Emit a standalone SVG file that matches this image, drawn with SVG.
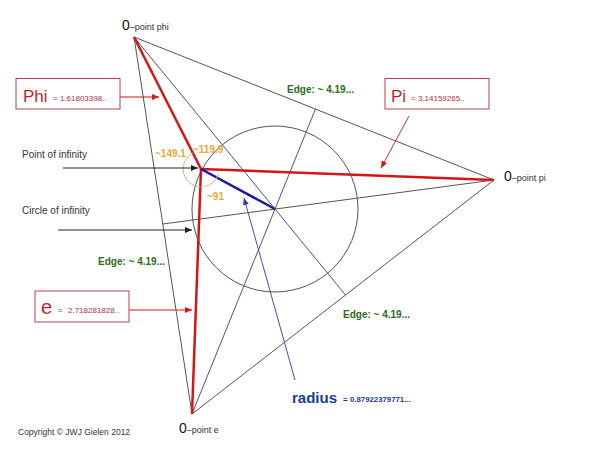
<svg xmlns="http://www.w3.org/2000/svg" width="600" height="450" viewBox="0 0 600 450">
<style>
.g{stroke:#555;stroke-width:1;fill:none}
.red{stroke:#d41515;stroke-width:2.5;fill:none}
.blue{stroke:#1a1aa8;stroke-width:2.5;fill:none}
.arc{stroke:#d8b68c;stroke-width:1;fill:none}
.lbl{font-family:"Liberation Sans",Arial,sans-serif;fill:#333}
.pt0{font-family:"Liberation Sans",Arial,sans-serif;font-size:14px;fill:#111}
.ptl{font-family:"Liberation Sans",Arial,sans-serif;font-size:9px;fill:#333}
.edge{font-family:"Liberation Sans",Arial,sans-serif;font-size:10px;font-weight:bold;fill:#2d6b22}
.ang{font-family:"Liberation Sans",Arial,sans-serif;font-size:10px;font-weight:bold;fill:#e8a838}
.box{fill:#fff;stroke:#b04050;stroke-width:1}
.big{font-family:"Liberation Sans",Arial,sans-serif;font-size:17px;fill:#c01f2f}
.small{font-family:"Liberation Sans",Arial,sans-serif;font-size:8px;fill:#b03040}
</style>
<defs>
<marker id="ab" markerWidth="8" markerHeight="8" refX="7" refY="4" orient="auto" markerUnits="userSpaceOnUse"><path d="M0,1 L7,4 L0,7 z" fill="#222"/></marker>
<marker id="ar" markerWidth="8" markerHeight="8" refX="7" refY="4" orient="auto" markerUnits="userSpaceOnUse"><path d="M0,1 L7,4 L0,7 z" fill="#d41515"/></marker>
<marker id="au" markerWidth="8" markerHeight="8" refX="7" refY="4" orient="auto" markerUnits="userSpaceOnUse"><path d="M0,1 L7,4 L0,7 z" fill="#3a3aa8"/></marker>
</defs>
<rect width="600" height="450" fill="#fff"/>
<g id="connectors">
<line class="g" x1="134" y1="37" x2="494" y2="180"/>
<line class="g" x1="494" y1="180" x2="192" y2="414"/>
<line class="g" x1="134" y1="37" x2="192" y2="414"/>
<line class="g" x1="134" y1="37" x2="345.5" y2="295"/>
<line class="g" x1="494" y1="180" x2="162.7" y2="224"/>
<line class="g" x1="192" y1="414" x2="315.5" y2="109"/>
<circle class="g" cx="275" cy="209" r="83"/>
<line class="red" x1="201" y1="169" x2="134" y2="37"/>
<line class="red" x1="201" y1="169" x2="494" y2="180"/>
<line class="red" x1="201" y1="169" x2="192" y2="414"/>
<line class="blue" x1="201" y1="169" x2="275" y2="209"/>
<path class="arc" d="M192.8,153 A18,18 0 0 0 200.4,187"/>
<path class="arc" d="M218.4,173.7 A18,18 0 0 1 204.1,186.7"/>
<line x1="63" y1="168" x2="198" y2="168" stroke="#222" stroke-width="1" marker-end="url(#ab)"/>
<line x1="58" y1="230" x2="192" y2="230" stroke="#222" stroke-width="1" marker-end="url(#ab)"/>
<line x1="120" y1="97" x2="159" y2="97" stroke="#d41515" stroke-width="1" marker-end="url(#ar)"/>
<line x1="409" y1="116" x2="381" y2="168" stroke="#c03040" stroke-width="1" marker-end="url(#ar)"/>
<line x1="129" y1="310" x2="192" y2="310" stroke="#d41515" stroke-width="1" marker-end="url(#ar)"/>
<line x1="295" y1="380" x2="244" y2="198" stroke="#4a4ab0" stroke-width="1" marker-end="url(#au)"/>
</g>
<g id="point-phi"><text x="122" y="30"><tspan class="pt0">0</tspan><tspan class="ptl">–point phi</tspan></text></g>
<g id="point-pi"><text x="504" y="181"><tspan class="pt0">0</tspan><tspan class="ptl">–point pi</tspan></text></g>
<g id="point-e"><text x="179" y="433"><tspan class="pt0">0</tspan><tspan class="ptl">–point e</tspan></text></g>
<g id="phi-box"><rect class="box" x="16" y="78.5" width="104" height="30.5"/><text x="23" y="102" class="big">Phi</text><text x="53" y="101" class="small">= 1.61803398..</text></g>
<g id="pi-box"><rect class="box" x="385" y="78.5" width="104" height="30.5"/><text x="391" y="102" class="big">Pi</text><text x="411" y="101" class="small">= 3.14159265..</text></g>
<g id="e-box"><rect class="box" x="35" y="291" width="94" height="31"/><text x="41" y="314" class="big" style="font-size:20px">e</text><text x="58" y="313" class="small">=</text><text x="68" y="313" class="small">2.718281828..</text></g>
<g id="labels">
<text x="22" y="158" class="lbl" font-size="10">Point of infinity</text>
<text x="22" y="214" class="lbl" font-size="10">Circle of infinity</text>
<text x="287" y="93" class="edge">Edge: ~ 4.19...</text>
<text x="98" y="265" class="edge">Edge: ~ 4.19...</text>
<text x="343" y="318" class="edge">Edge: ~ 4.19...</text>
<text x="155" y="157" class="ang">~149.1</text>
<text x="193" y="153" class="ang">~119.9</text>
<text x="207" y="200" class="ang">~91</text>
<text x="18" y="435" class="lbl" font-size="8.5">Copyright © JWJ Gielen 2012</text>
</g>
<g id="radius"><text x="292" y="403" font-family="Liberation Sans, Arial, sans-serif" font-size="15" font-weight="bold" fill="#1a3a9a">radius</text><text x="343" y="402" font-family="Liberation Sans, Arial, sans-serif" font-size="8" font-weight="bold" fill="#1a3a9a">=</text><text x="350" y="402" font-family="Liberation Sans, Arial, sans-serif" font-size="7.8" font-weight="bold" fill="#1a3a9a">0.87922379771...</text></g>
</svg>
